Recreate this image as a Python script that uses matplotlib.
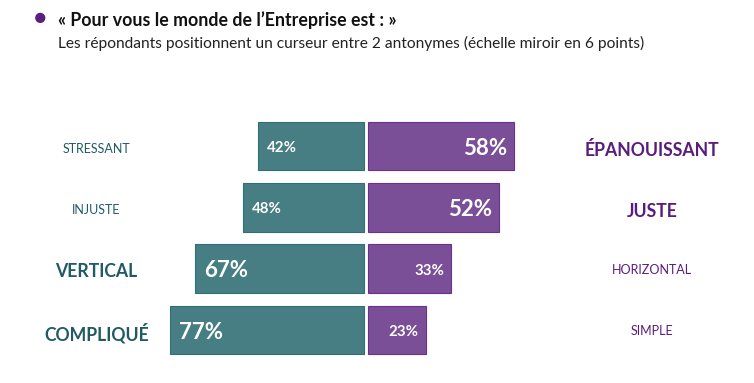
import matplotlib.pyplot as plt

plt.rcParams['font.family'] = ['Lato', 'DejaVu Sans']

left_labels = ["STRESSANT", "INJUSTE", "VERTICAL", "COMPLIQUÉ"]
right_labels = ["ÉPANOUISSANT", "JUSTE", "HORIZONTAL", "SIMPLE"]
left_vals = [42, 48, 67, 77]
right_vals = [58, 52, 33, 23]

teal = "#467E83"
purple = "#7A4F98"
teal_txt = "#1F5A66"
purple_txt = "#5A1C7C"

fig = plt.figure(figsize=(7.54, 3.83), dpi=100)
ax = fig.add_axes([0, 0, 1, 1])
# 1% = 2.52 px, centre of the chart at x = 366 px
px = 2.52
ax.set_xlim(-366 / px, (754 - 366) / px)
pitch = 61.3
ax.set_ylim((383 - 146) / pitch, -146 / pitch)
ax.axis("off")

gap = 0.7
h = 0.79
dy = 0.035  # small downward nudge for the text
for i in range(len(left_vals)):
    lv, rv = left_vals[i], right_vals[i]
    ax.barh(i, -lv, left=-gap, height=h, color=teal, edgecolor="#2F6E73", linewidth=0.8)
    ax.barh(i, rv, left=gap, height=h, color=purple, edgecolor="#6A2F91", linewidth=0.8)

    big_left = lv > rv
    ax.text(-gap - lv + 3.3, i + dy, f"{lv}%", color="white", fontweight="bold",
            fontsize=16 if big_left else 10.8, ha="left", va="center")
    ax.text(gap + rv - 2.8, i + dy, f"{rv}%", color="white", fontweight="bold",
            fontsize=16 if not big_left else 10.8, ha="right", va="center")

    ax.text(-107, i + 0.05, left_labels[i], color=teal_txt, ha="center", va="center",
            fontsize=12.7 if big_left else 9, fontweight="bold" if big_left else "normal")
    ax.text(113.5, i + (0.07 if not big_left else 0.02), right_labels[i], color=purple_txt,
            ha="center", va="center",
            fontsize=12.7 if not big_left else 9, fontweight="bold" if not big_left else "normal")

fig.text(40 / 754, 1 - 18 / 383, "●", color="#5B1F82", fontsize=15, ha="center", va="center")
fig.text(58 / 754, 1 - 20 / 383, "« Pour vous le monde de l’Entreprise est : »",
         fontsize=12.8, fontweight="bold", color="#111111", va="center")
fig.text(58 / 754, 1 - 43 / 383,
         "Les répondants positionnent un curseur entre 2 antonymes (échelle miroir en 6 points)",
         fontsize=11.2, color="#222222", va="center")

fig.savefig("out.png", dpi=100)
